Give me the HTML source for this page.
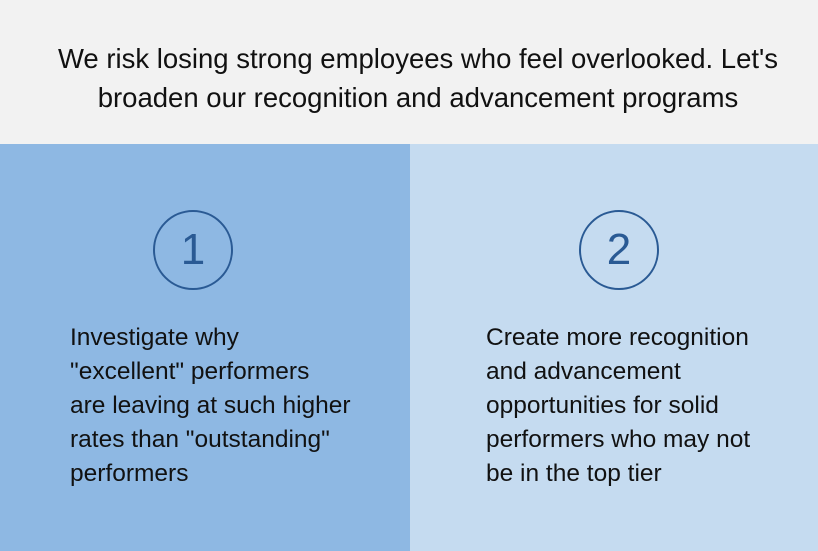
<!DOCTYPE html>
<html><head><meta charset="utf-8"><style>
body{margin:0;width:818px;height:551px;overflow:hidden;font-family:"Liberation Sans",sans-serif;}
#top{position:absolute;left:0;top:0;width:818px;height:144px;background:#f2f2f2;}
#title{position:absolute;left:0;top:39px;width:836px;text-align:center;font-size:27.5px;line-height:39px;color:#111;}
.panel{position:absolute;top:144px;height:407px;}
#left{left:0;width:410px;background:#8eb8e3;}
#right{left:410px;width:408px;background:#c5dbf0;}
.circ{position:absolute;width:76px;height:76px;border:2.5px solid #2a5a94;border-radius:50%;text-align:center;line-height:76px;font-size:44px;color:#2a5a94;}
.body{position:absolute;font-size:24.5px;line-height:34px;color:#111;}
</style></head><body>
<div id="top">
<div id="title">We risk losing strong employees who feel overlooked. Let's<br>broaden our recognition and advancement programs</div>
</div>
<div id="left" class="panel">
<div class="circ" style="left:153px;top:66px">1</div>
<div class="body" style="left:70px;top:177px">Investigate why<br>"excellent" performers<br>are leaving at such higher<br>rates than "outstanding"<br>performers</div>
</div>
<div id="right" class="panel">
<div class="circ" style="left:169px;top:66px">2</div>
<div class="body" style="left:76px;top:177px">Create more recognition<br>and advancement<br>opportunities for solid<br>performers who may not<br>be in the top tier</div>
</div>
</body></html>
